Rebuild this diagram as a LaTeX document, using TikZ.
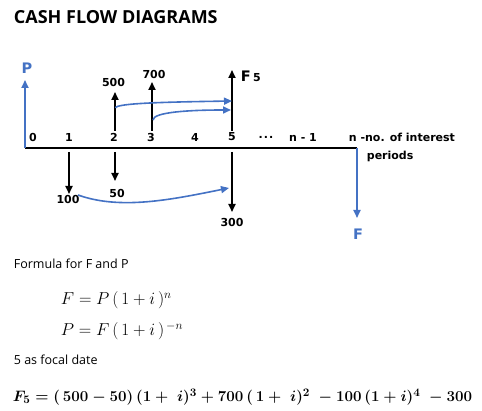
\documentclass[tikz,border=0pt]{standalone}
\usepackage{amsmath}
\usepackage[no-math]{fontspec}
\setmainfont{Open Sans}
\newfontfamily\labelfont{DejaVu Sans}
\usetikzlibrary{arrows.meta}
\definecolor{flowblue}{HTML}{4472C4}

\begin{document}
\begin{tikzpicture}[x=1pt, y=-1pt, >={Triangle[length=8pt, width=7pt]}, line width=1.8pt,
    cash/.style={->, black},
    link/.style={->, flowblue, line width=1.6pt},
    lbl/.style={font=\labelfont\bfseries\fontsize{11}{12}\selectfont, inner sep=0pt},
    big/.style={font=\labelfont\bfseries\fontsize{14.5}{16}\selectfont, inner sep=0pt},
    txt/.style={font=\fontsize{12.5}{14}\selectfont, inner sep=0pt, anchor=west},
    eq/.style={font=\fontsize{17.5}{20}\selectfont, inner sep=0pt, anchor=west},
    eqbold/.style={font=\boldmath\fontsize{15.2}{17}\selectfont, inner sep=0pt, anchor=west, scale=1.05}]
  \useasboundingbox (0,0) rectangle (482,411);
  \node[font=\bfseries\fontsize{18}{20}\selectfont, inner sep=0pt, anchor=west] (title) at (13,17) {CASH FLOW DIAGRAMS};

  % time line
  \coordinate (o) at (25,148);
  \coordinate (end) at (357,148);
  \draw[black] (o) -- (end);
  \foreach \x/\t [count=\i] in {33/0, 69/1, 114/2, 151/3, 195/4, 232/5, 303/n - 1}
    \node[lbl] (t\i) at (\x,137) {\t};
  \node[lbl] (dots) at (266,137) {.\kern1pt.\kern1pt.};
  \node[lbl, anchor=west] (tn) at (348,137) {n -no. of interest};
  \node[lbl, anchor=west] (per) at (366,156) {periods};

  % P and F
  \coordinate (Ptip) at (25,80);
  \coordinate (Ftip) at (357,218);
  \draw[->, flowblue] (o) -- (Ptip);
  \draw[->, flowblue] (end) -- (Ftip);
  \node[big, text=flowblue] (P) at (27,68) {P};
  \node[big, text=flowblue] (F) at (358,234) {F};

  % receipts
  \coordinate (a2) at (115,131); \coordinate (u2) at (115,92);
  \coordinate (a3) at (152,131); \coordinate (u3) at (152,82);
  \coordinate (a5) at (232,131); \coordinate (u5) at (232,70);
  \draw[cash] (a2) -- (u2);
  \draw[cash] (a3) -- (u3);
  \draw[cash] (a5) -- (u5);
  \node[lbl] (v500) at (113.5,82) {500};
  \node[lbl] (v700) at (154,74) {700};
  \node[big, anchor=west] (F5) at (240,76) {F\,{\fontsize{11}{11}\selectfont 5}};

  % payments
  \coordinate (b1) at (69,152); \coordinate (d1) at (69,194);
  \coordinate (b2) at (115,152); \coordinate (d2) at (115,181);
  \coordinate (b5) at (232,152); \coordinate (d5) at (232,212);
  \draw[cash] (b1) -- (d1);
  \draw[cash] (b2) -- (d2);
  \draw[cash] (b5) -- (d5);
  \node[lbl] (v100) at (68,199) {100};
  \node[lbl] (v50) at (117,193) {50};
  \node[lbl] (v300) at (232,222) {300};

  % moved to date 5
  \coordinate (m2) at (115.5,108); \coordinate (n2) at (232,101);
  \coordinate (m3) at (153,120); \coordinate (n3) at (231,110);
  \coordinate (m1) at (78,195); \coordinate (n1) at (229,188);
  \draw[link] (m2) .. controls (115.5,103) and (170,102) .. (n2);
  \draw[link] (m3) .. controls (153,112) and (190,110) .. (n3);
  \draw[link] (m1) .. controls (120,210) and (170,200) .. (n1);

  % formulas
  \node[txt] (h1) at (13,264) {Formula for F and P};
  \node[eq] (e1) at (60,300) {$F = P\,(\,1 + i\,)^{n}$};
  \node[eq] (e2) at (60,331) {$P = F\,(\,1 + i\,)^{\,-n}$};
  \node[txt] (h2) at (13,360) {5 as focal date};
  \node[eqbold] (e3) at (12,397) {$F_5 = (\,500 - 50)\,(1 +\; i)^3 + 700\,(\,1 +\; i)^2\; - 100\,(1 + i)^4\; - 300$};
\end{tikzpicture}
\end{document}
